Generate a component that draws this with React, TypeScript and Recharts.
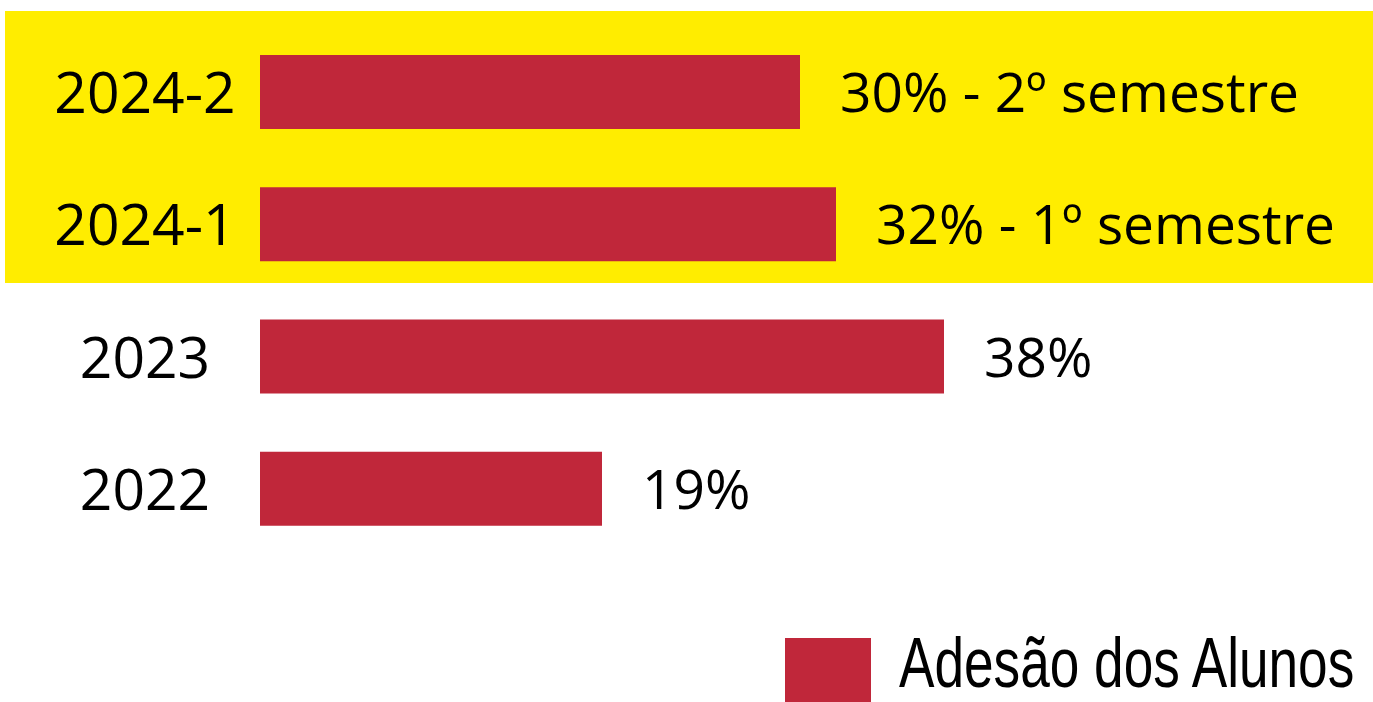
import React from 'react';
import { BarChart, Bar, XAxis, YAxis, LabelList, Legend } from 'recharts';

const anos = ['2024-2', '2024-1', '2023', '2022'];
const adesao = [30, 32, 38, 19];
const rotulos = ['30% - 2º semestre', '32% - 1º semestre', '38%', '19%'];

const VERMELHO = '#C0273A';
const AMARELO = '#FFED00';
const FONTE = '"Open Sans", "Noto Sans", sans-serif';

const dados = anos.map((ano, i) => ({ ano, adesao: adesao[i], rotulo: rotulos[i] }));

function AnoTick(props: any) {
  const { y, payload } = props;
  return (
    <text x={145} y={y + 21} textAnchor="middle" fontSize={57} fontFamily={FONTE} fill="#000">
      {payload.value}
    </text>
  );
}

function Rotulo(props: any) {
  const { x, y, width, height, value } = props;
  return (
    <text x={x + width + 40} y={y + height / 2 + 20} fontSize={55} fontFamily={FONTE} fill="#000">
      {value}
    </text>
  );
}

// fonte condensada simulada: texto comprimido na horizontal
function Legenda() {
  return (
    <div style={{ display: 'flex', alignItems: 'flex-start' }}>
      <div style={{ width: 86, height: 64, background: VERMELHO }} />
      <svg width={460} height={64} style={{ marginLeft: 28, overflow: 'visible' }}>
        <g transform="scale(0.755 1)">
          <text
            x={0}
            y={49}
            fontSize={70}
            fontFamily='"Liberation Sans", Arial, sans-serif'
            fill="#000"
            textLength={603}
            lengthAdjust="spacingAndGlyphs"
          >
            Adesão dos Alunos
          </text>
        </g>
      </svg>
    </div>
  );
}

export default function App() {
  return (
    <div style={{ position: 'relative', width: 1373, height: 702, background: '#fff' }}>
      <style>{'body{margin:0}'}</style>
      {/* faixa amarela destacando 2024 */}
      <div style={{ position: 'absolute', left: 5, top: 11, width: 1368, height: 272, background: AMARELO }} />
      <BarChart
        width={1373}
        height={702}
        data={dados}
        layout="vertical"
        margin={{ top: 26, right: 33, left: 0, bottom: 147 }}
        barSize={74}
      >
        <XAxis type="number" domain={[0, 60]} hide />
        <YAxis
          type="category"
          dataKey="ano"
          width={260}
          axisLine={false}
          tickLine={false}
          tick={<AnoTick />}
        />
        <Legend
          layout="horizontal"
          verticalAlign="middle"
          align="center"
          content={<Legenda />}
          wrapperStyle={{ left: 785, top: 638, width: 580, height: 64 }}
        />
        <Bar dataKey="adesao" name="Adesão dos Alunos" fill={VERMELHO} isAnimationActive={false}>
          <LabelList dataKey="rotulo" content={<Rotulo />} />
        </Bar>
      </BarChart>
    </div>
  );
}
